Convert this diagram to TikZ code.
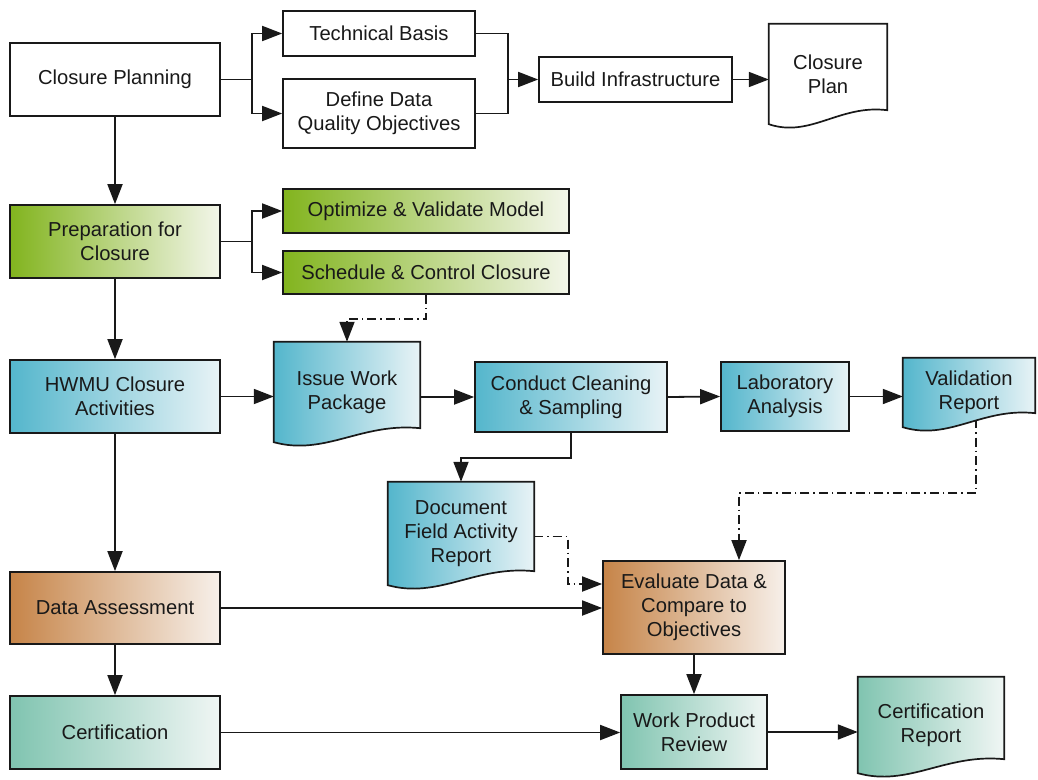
\documentclass[tikz,border=0pt]{standalone}
\usepackage{fontspec}
\setmainfont{Liberation Sans}
\usetikzlibrary{arrows.meta,calc}
\pgfdeclarelayer{background}
\pgfsetlayers{background,main}
\definecolor{grL}{RGB}{130,180,30}
\definecolor{grR}{RGB}{243,246,234}
\definecolor{blL}{RGB}{84,182,204}
\definecolor{blR}{RGB}{232,243,246}
\definecolor{orL}{RGB}{198,132,72}
\definecolor{orR}{RGB}{247,240,234}
\definecolor{tlL}{RGB}{128,196,176}
\definecolor{tlR}{RGB}{240,246,244}
\definecolor{ink}{RGB}{25,25,25}
\newcommand{\docpath}[2]{%
  \path[docline,#2] (#1.north west) -- (#1.north east) -- ([yshift=14pt]#1.south east)
    .. controls ($(#1.south west)!0.6!(#1.south east)+(0,-20)$) and ($(#1.south west)!0.35!(#1.south east)+(0,14)$) .. (#1.south west) -- cycle;}
\begin{document}
\begin{tikzpicture}[x=1pt,y=-1pt,
  txt/.style={inner sep=0pt, align=center, text=ink, font=\fontsize{20.2}{24}\selectfont},
  box/.style={txt, draw=ink, line width=1.7pt},
  docline/.style={draw=ink, line width=1.7pt},
  white/.style={fill=white},
  green/.style={left color=grL, right color=grR},
  blue/.style={left color=blL, right color=blR},
  orange/.style={left color=orL, right color=orR},
  teal/.style={left color=tlL, right color=tlR},
  conn/.style={line width=1.8pt, draw=ink},
  arr/.style={conn, -{Triangle[length=20pt,width=15pt]}},
  dd/.style={dash pattern=on 9pt off 4pt on 1.5pt off 4pt}]
\useasboundingbox (0,0) rectangle (1038,779);

% top row
\node[box, white, minimum width=210pt, minimum height=73pt] (cp) at (115,79.5) {Closure Planning};
\node[box, white, minimum width=192pt, minimum height=45pt] (tb) at (379,33.5) {Technical Basis};
\node[box, white, minimum width=192pt, minimum height=69pt] (dq) at (379,113.5) {Define Data\\Quality Objectives};
\node[box, white, minimum width=193pt, minimum height=45pt] (bi) at (635.5,79.5) {Build Infrastructure};
\node[txt, minimum width=118pt, minimum height=100pt] (plan) at (828,74) {};
\docpath{plan}{white}
\node[txt] at (plan.center) {Closure\\Plan};

% preparation row
\node[box, green, minimum width=210pt, minimum height=73pt] (prep) at (115,241.5) {Preparation for\\Closure};
\node[box, green, minimum width=286pt, minimum height=44pt] (opt) at (426,211) {Optimize \& Validate Model};
\node[box, green, minimum width=286pt, minimum height=43pt] (sch) at (426,272.5) {Schedule \& Control Closure};

% HWMU row
\node[box, blue, minimum width=210pt, minimum height=73pt] (hwmu) at (115,396.5) {HWMU Closure\\Activities};
\node[txt, minimum width=146pt, minimum height=100pt] (iwp) at (347,392) {};
\docpath{iwp}{blue}
\node[txt] at (iwp.center) {Issue Work\\Package};
\node[box, blue, minimum width=192pt, minimum height=70pt] (ccs) at (571,397) {Conduct Cleaning\\\& Sampling};
\node[box, blue, minimum width=128pt, minimum height=69pt] (lab) at (785,396.5) {Laboratory\\Analysis};
\node[txt, minimum width=132pt, minimum height=69pt] (val) at (969,392.5) {};
\docpath{val}{blue}
\node[txt] at (val.center) {Validation\\Report};
\node[txt, minimum width=146pt, minimum height=103pt] (dfar) at (461,533.5) {};
\docpath{dfar}{blue}
\node[txt] at (dfar.center) {Document\\Field Activity\\Report};

% assessment row
\node[box, orange, minimum width=210pt, minimum height=72pt] (da) at (115,608) {Data Assessment};
\node[box, orange, minimum width=182pt, minimum height=93pt] (eval) at (694,607.5) {Evaluate Data \&\\Compare to\\Objectives};

% certification row
\node[box, teal, minimum width=210pt, minimum height=73pt] (cert) at (115,732.5) {Certification};
\node[box, teal, minimum width=146pt, minimum height=74pt] (wpr) at (694,732) {Work Product\\Review};
\node[txt, minimum width=146pt, minimum height=96pt] (cr) at (931,725) {};
\docpath{cr}{teal}
\node[txt] at (cr.center) {Certification\\Report};

\coordinate (j1) at (252,79.5);
\coordinate (j2) at (508,79.5);
\coordinate (j3) at (252,241.5);
\coordinate (b0) at (426,319);
\coordinate (b1) at (976,493);
\coordinate (b2) at (568,536.5);

\begin{pgfonlayer}{background}
\draw[conn] (cp.east) -- (j1);
\draw[arr] (j1) |- (tb.west);
\draw[arr] (j1) |- (dq.west);
\draw[conn] (tb.east) -| (j2);
\draw[conn] (dq.east) -| (j2);
\draw[arr] (j2) -- (bi.west);
\draw[arr] (bi.east) -- (bi.east -| plan.west);
\draw[arr] (cp.south) -- (prep.north);

\draw[conn] (prep.east) -- (j3);
\draw[arr] (j3) |- (opt.west);
\draw[arr] (j3) |- (sch.west);
\draw[arr,dd] (sch.south) -- (b0) -| (iwp.north);
\draw[arr] (prep.south) -- (hwmu.north);

\draw[arr] (hwmu.east) -- (hwmu.east -| iwp.west);
\draw[arr] (ccs.west -| iwp.east) -- (ccs.west);
\draw[arr] (ccs.east) -- (lab.west);
\draw[arr] (lab.east) -- (lab.east -| val.west);
\draw[arr] (ccs.south) -- ++(0,25) -| (dfar.north);
\draw[arr,dd] ([xshift=7pt,yshift=8pt]val.south) -- (b1) -| ([xshift=45pt]eval.north);
\draw[arr,dd] ([yshift=-3pt]dfar.east) -- (b2) |- ([yshift=23.5pt]eval.west);

\draw[arr] (hwmu.south) -- (da.north);
\draw[arr] (da.east) -- (da.east -| eval.west);
\draw[arr] (da.south) -- (cert.north);
\draw[arr] (eval.south) -- (wpr.north);
\draw[arr] (cert.east) -- (cert.east -| wpr.west);
\draw[arr] (wpr.east) -- (wpr.east -| cr.west);
\end{pgfonlayer}
\end{tikzpicture}
\end{document}
